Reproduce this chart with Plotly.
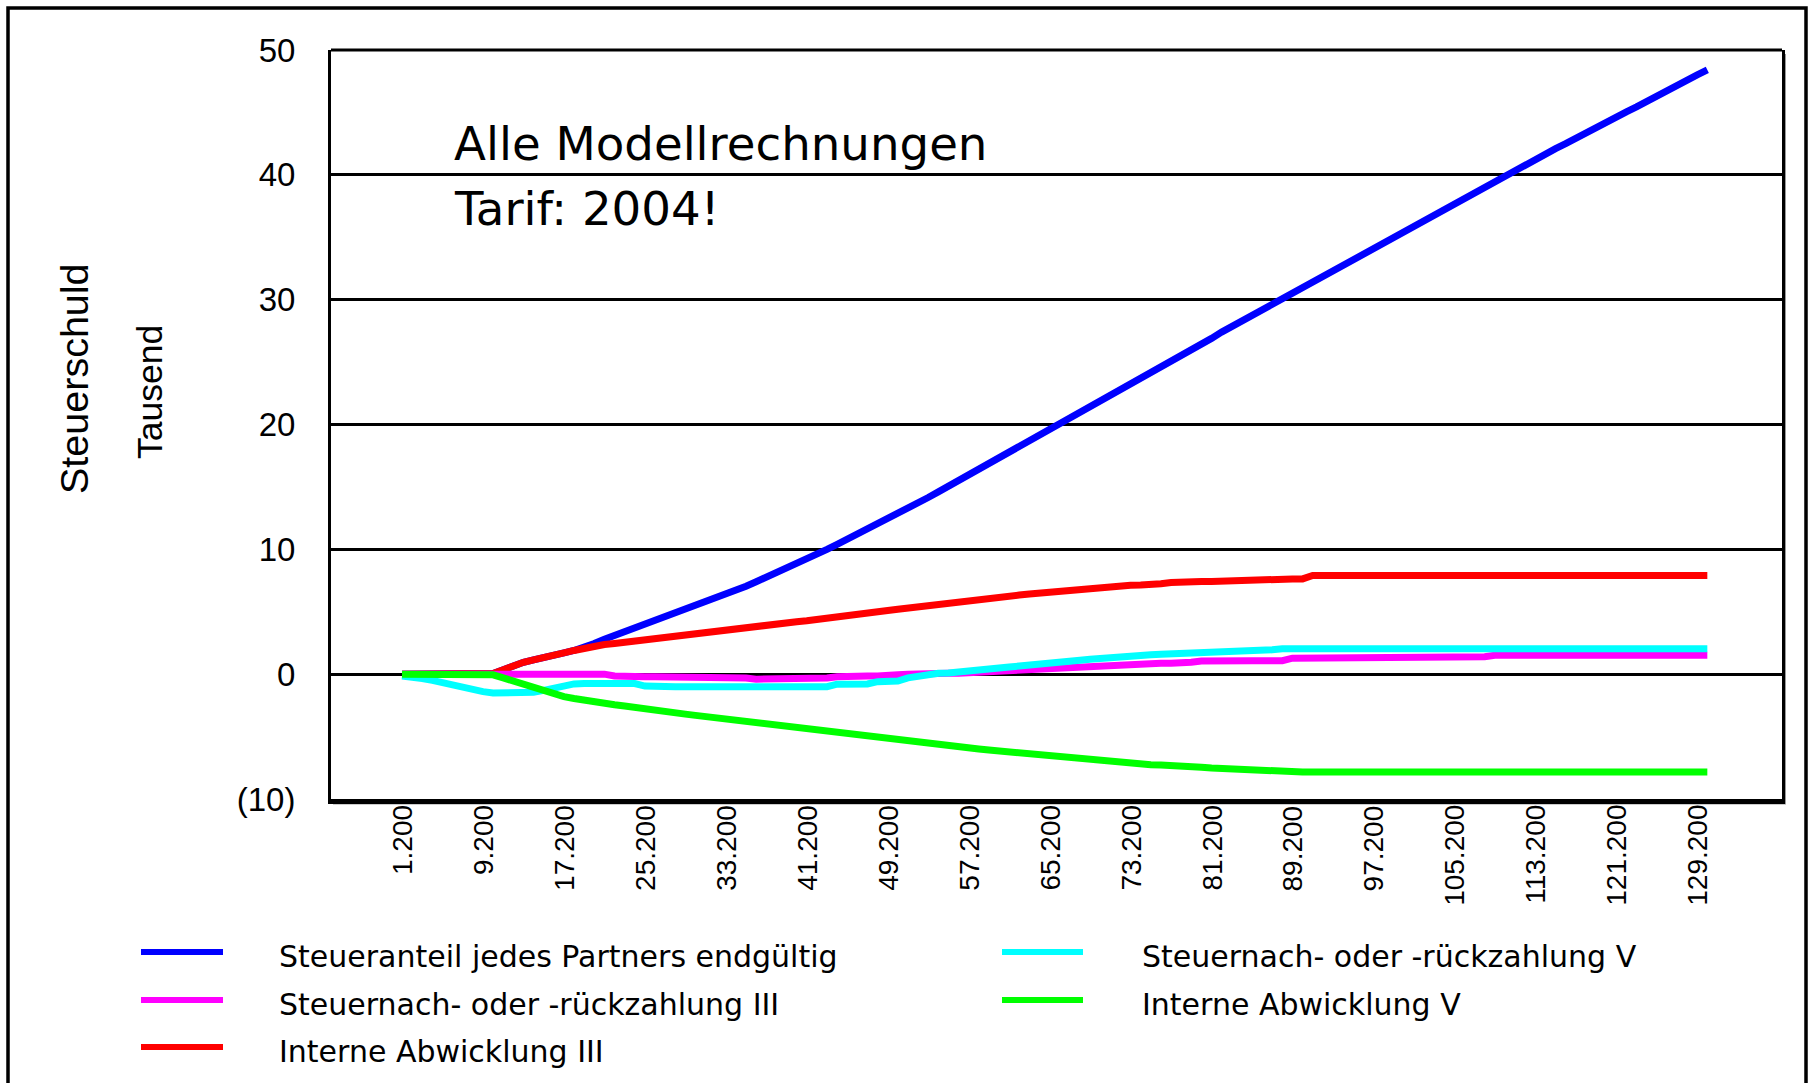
import plotly.graph_objects as go

# ---------------- data (values in thousand) ----------------
einkommen = list(range(1200, 131200, 1000))          # 1.200 ... 130.200
x_ticks = list(range(1200, 130000, 8000))            # 1.200 ... 129.200
y_ticks = [-10, 0, 10, 20, 30, 40, 50]
y_ticktext = ["(10)", "0", "10", "20", "30", "40", "50"]

steueranteil = [
    0, 0, 0, 0, 0, 0, 0, 0, 0, 0.05,
    0.35, 0.7, 0.95, 1.15, 1.3, 1.5, 1.7, 1.9, 2.15, 2.45,
    2.8, 3.1, 3.4, 3.65, 3.95, 4.25, 4.55, 4.85, 5.15, 5.45,
    5.75, 6.05, 6.4, 6.7, 7.05, 7.4, 7.75, 8.1, 8.45, 8.8,
    9.2, 9.6, 10.0, 10.4, 10.8, 11.2, 11.6, 12.0, 12.4, 12.85,
    13.25, 13.7, 14.15, 14.6, 15.05, 15.5, 15.95, 16.4, 16.85, 17.3,
    17.75, 18.2, 18.65, 19.1, 19.6, 20.1, 20.55, 21.0, 21.45, 21.9,
    22.35, 22.8, 23.3, 23.75, 24.2, 24.65, 25.1, 25.55, 26.0, 26.45,
    26.9, 27.4, 27.85, 28.3, 28.75, 29.2, 29.65, 30.1, 30.55, 31.0,
    31.45, 31.9, 32.35, 32.8, 33.25, 33.7, 34.15, 34.6, 35.05, 35.5,
    35.95, 36.4, 36.85, 37.3, 37.75, 38.2, 38.65, 39.1, 39.55, 40.0,
    40.4, 40.85, 41.25, 41.7, 42.1, 42.5, 42.95, 43.35, 43.8, 44.2,
    44.6, 45.05, 45.45, 45.9, 46.3, 46.7, 47.15, 47.55, 48.0, 48.4,
]

nachzahlung_iii = [
    0, 0, 0, 0, 0, 0, 0, 0, 0, 0,
    0, 0, 0, 0, 0, 0, 0, 0, 0, 0,
    0, -0.15, -0.2, -0.2, -0.2, -0.2, -0.2, -0.2, -0.2, -0.2,
    -0.2, -0.2, -0.2, -0.2, -0.3, -0.4, -0.4, -0.4, -0.4, -0.4,
    -0.4, -0.4, -0.3, -0.2, -0.15, -0.15, -0.15, -0.15, -0.15, -0.05,
    0.0, 0.05, 0.08, 0.08, 0.08, 0.08, 0.12, 0.17, 0.2, 0.25,
    0.3, 0.35, 0.42, 0.48, 0.53, 0.56, 0.59, 0.61, 0.65, 0.72,
    0.8, 0.83, 0.86, 0.88, 0.88, 0.88, 0.88, 0.88, 0.95, 1.05,
    1.08, 1.08, 1.08, 1.08, 1.08, 1.08, 1.08, 1.08, 1.28, 1.28,
    1.28, 1.28, 1.28, 1.28, 1.28, 1.28, 1.28, 1.28, 1.28, 1.28,
    1.28, 1.28, 1.28, 1.28, 1.28, 1.28, 1.28, 1.4, 1.52, 1.52,
    1.52, 1.52, 1.52, 1.52, 1.52, 1.52, 1.52, 1.52, 1.52, 1.52,
    1.52, 1.52, 1.52, 1.52, 1.52, 1.52, 1.52, 1.52, 1.52, 1.52,
]

intern_iii = [
    0, 0, 0, 0, 0, 0, 0, 0, 0, 0.05,
    0.35, 0.7, 0.95, 1.15, 1.3, 1.5, 1.7, 1.9, 2.1, 2.25,
    2.38, 2.46, 2.56, 2.68, 2.78, 2.88, 2.98, 3.08, 3.15, 3.22,
    3.3, 3.4, 3.55, 3.7, 3.83, 3.9, 3.96, 4.02, 4.1, 4.2,
    4.28, 4.4, 4.5, 4.58, 4.68, 4.78, 4.9, 5.0, 5.1, 5.2,
    5.3, 5.4, 5.52, 5.65, 5.78, 5.85, 5.95, 6.03, 6.1, 6.18,
    6.26, 6.34, 6.42, 6.5, 6.6, 6.68, 6.76, 6.84, 6.92, 7.0,
    7.06, 7.1, 7.13, 7.15, 7.15, 7.25, 7.35, 7.42, 7.42, 7.42,
    7.42, 7.45, 7.55, 7.62, 7.63, 7.63, 7.63, 7.63, 7.63, 7.63,
    7.9, 7.9, 7.9, 7.9, 7.9, 7.9, 7.9, 7.9, 7.9, 7.9,
    7.9, 7.9, 7.9, 7.9, 7.9, 7.9, 7.9, 7.9, 7.9, 7.9,
    7.9, 7.9, 7.9, 7.9, 7.9, 7.9, 7.9, 7.9, 7.9, 7.9,
    7.9, 7.9, 7.9, 7.9, 7.9, 7.9, 7.9, 7.9, 7.9, 7.9,
]

nachzahlung_v = [
    -0.15, -0.2, -0.35, -0.5, -0.7, -0.9, -1.05, -1.25, -1.4, -1.5,
    -1.5, -1.5, -1.5, -1.45, -1.3, -1.1, -0.9, -0.78, -0.75, -0.75,
    -0.75, -0.75, -0.75, -0.75, -0.95, -1.0, -1.0, -1.0, -1.0, -1.0,
    -1.0, -1.0, -1.0, -1.0, -1.0, -1.0, -1.0, -1.0, -1.0, -1.0,
    -1.0, -1.0, -1.0, -0.8, -0.78, -0.78, -0.78, -0.6, -0.55, -0.55,
    -0.3, -0.15, -0.05, 0.08, 0.1, 0.2, 0.32, 0.36, 0.45, 0.53,
    0.58, 0.65, 0.75, 0.8, 0.9, 1.05, 1.08, 1.12, 1.2, 1.28,
    1.32, 1.38, 1.45, 1.52, 1.55, 1.6, 1.62, 1.66, 1.72, 1.78,
    1.82, 1.82, 1.82, 1.82, 1.82, 1.82, 1.95, 2.03, 2.03, 2.03,
    2.03, 2.03, 2.03, 2.03, 2.03, 2.03, 2.03, 2.03, 2.03, 2.03,
    2.03, 2.03, 2.03, 2.03, 2.03, 2.03, 2.03, 2.03, 2.03, 2.03,
    2.03, 2.03, 2.03, 2.03, 2.03, 2.03, 2.03, 2.03, 2.03, 2.03,
    2.03, 2.03, 2.03, 2.03, 2.03, 2.03, 2.03, 2.03, 2.03, 2.03,
]

intern_v = [
    0, 0, 0, 0, 0, 0, 0, 0, 0, -0.05,
    -0.3, -0.55, -0.8, -1.1, -1.4, -1.6, -1.8, -1.95, -2.1, -2.25,
    -2.35, -2.45, -2.55, -2.68, -2.8, -2.9, -3.0, -3.1, -3.2, -3.3,
    -3.4, -3.5, -3.6, -3.72, -3.83, -3.9, -3.98, -4.05, -4.13, -4.22,
    -4.3, -4.45, -4.55, -4.65, -4.8, -4.88, -4.97, -5.1, -5.2, -5.3,
    -5.43, -5.53, -5.6, -5.68, -5.77, -5.85, -5.93, -6.0, -6.08, -6.16,
    -6.24, -6.3, -6.4, -6.48, -6.58, -6.65, -6.72, -6.8, -6.85, -6.9,
    -6.95, -7.0, -7.08, -7.17, -7.25, -7.28, -7.3, -7.3, -7.35, -7.45,
    -7.52, -7.57, -7.57, -7.58, -7.6, -7.7, -7.8, -7.84, -7.84, -7.84,
    -7.84, -7.84, -7.84, -7.84, -7.84, -7.84, -7.84, -7.84, -7.84, -7.84,
    -7.84, -7.84, -7.84, -7.84, -7.84, -7.84, -7.84, -7.84, -7.84, -7.84,
    -7.84, -7.84, -7.84, -7.84, -7.84, -7.84, -7.84, -7.84, -7.84, -7.84,
    -7.84, -7.84, -7.84, -7.84, -7.84, -7.84, -7.84, -7.84, -7.84, -7.84,
]

series_names = [
    "Steueranteil jedes Partners endgültig",
    "Steuernach- oder -rückzahlung III",
    "Interne Abwicklung III",
    "Steuernach- oder -rückzahlung V",
    "Interne Abwicklung V",
]
series_colors = ["#0000FF", "#FF00FF", "#FF0000", "#00FFFF", "#00FF00"]
series_values = [steueranteil, nachzahlung_iii, intern_iii, nachzahlung_v, intern_v]

# ---------------- layout geometry ----------------
W, H = 1810, 1083
ML, MR, MT, MB = 331, 28, 50, 284
PW, PH = W - ML - MR, H - MT - MB


def px(x):
    return (x - ML) / PW


def py(y):
    return (MT + PH - y) / PH


ARIAL = "Liberation Sans, Arial, sans-serif"
VERD = "DejaVu Sans, Verdana, sans-serif"

fig = go.Figure()

draw_order = [0, 2, 1, 3, 4]
for k in draw_order:
    fig.add_trace(go.Scatter(
        x=einkommen, y=series_values[k], mode="lines", name=series_names[k],
        line=dict(color=series_colors[k], width=7), showlegend=False,
        hoverinfo="skip",
    ))

shapes = []
# outer frame
shapes.append(dict(type="rect", xref="paper", yref="paper",
                   x0=px(8), x1=px(1806), y0=py(1120), y1=py(8),
                   line=dict(color="black", width=3.5), layer="above"))
# top border of plot area
shapes.append(dict(type="line", xref="paper", yref="paper",
                   x0=0, x1=1, y0=1, y1=1,
                   line=dict(color="black", width=3), layer="above"))
# soft shadow of plot area (bottom and right)
shapes.append(dict(type="line", xref="paper", yref="paper",
                   x0=px(333), x1=px(1786), y0=py(803.5), y1=py(803.5),
                   line=dict(color="#9a9a9a", width=2), layer="below"))
shapes.append(dict(type="line", xref="paper", yref="paper",
                   x0=px(1785), x1=px(1785), y0=py(803.5), y1=py(54),
                   line=dict(color="#9a9a9a", width=2), layer="below"))

# legend (two columns)
legend_pos = [
    (141, 223, 277, 952),
    (141, 223, 277, 1000),
    (141, 223, 277, 1047),
    (1002, 1083, 1140, 952),
    (1002, 1083, 1140, 1000),
]
annotations = []
for k, (sx0, sx1, tx, ly) in enumerate(legend_pos):
    shapes.append(dict(type="line", xref="paper", yref="paper",
                       x0=px(sx0), x1=px(sx1), y0=py(ly), y1=py(ly),
                       line=dict(color=series_colors[k], width=6)))
    annotations.append(dict(text=series_names[k], xref="paper", yref="paper",
                            x=px(tx), y=py(ly + 4), xanchor="left", yanchor="middle",
                            showarrow=False, font=dict(family=VERD, size=30, color="black")))

# x tick labels (rotated, hanging just below the axis)
for tv in x_ticks:
    annotations.append(dict(text=f"{tv:,}".replace(",", "."), xref="x", yref="paper",
                            x=tv, y=py(803), textangle=-90, showarrow=False,
                            xanchor="center", yanchor="top",
                            font=dict(family=ARIAL, size=28, color="black")))

annotations += [
    dict(text="Steuerschuld", xref="paper", yref="paper", x=px(74), y=py(379),
         textangle=-90, showarrow=False, xanchor="center", yanchor="middle",
         font=dict(family=ARIAL, size=39.5, color="black")),
    dict(text="Tausend", xref="paper", yref="paper", x=px(150), y=py(392),
         textangle=-90, showarrow=False, xanchor="center", yanchor="middle",
         font=dict(family=ARIAL, size=35.5, color="black")),
    dict(text="Alle Modellrechnungen", xref="paper", yref="paper", x=px(452), y=py(144),
         showarrow=False, xanchor="left", yanchor="middle",
         font=dict(family=VERD, size=46.7, color="black")),
    dict(text="Tarif: 2004!", xref="paper", yref="paper", x=px(452), y=py(209),
         showarrow=False, xanchor="left", yanchor="middle",
         font=dict(family=VERD, size=46.7, color="black")),
]

fig.update_layout(
    width=W, height=H,
    margin=dict(l=ML, r=MR, t=MT, b=MB, pad=0),
    paper_bgcolor="white", plot_bgcolor="white",
    separators=",.",
    showlegend=False,
    shapes=shapes,
    annotations=annotations,
    xaxis=dict(
        range=[1200 - 7020, 1200 + 136380],
        tickvals=x_ticks, showticklabels=False,
        showgrid=False, zeroline=False,
        showline=True, linecolor="black", linewidth=5,
        ticks="",
    ),
    yaxis=dict(
        range=[-10, 50],
        tickvals=y_ticks, ticktext=y_ticktext,
        showgrid=True, gridcolor="black", gridwidth=3,
        zeroline=True, zerolinecolor="black", zerolinewidth=3,
        showline=True, linecolor="black", linewidth=3, mirror=True,
        ticks="", ticklabelstandoff=26,
        tickfont=dict(family=ARIAL, size=33, color="black"),
    ),
)

fig.write_html("out.html", config={"displayModeBar": False},
               post_script="document.body.style.margin='0';")
